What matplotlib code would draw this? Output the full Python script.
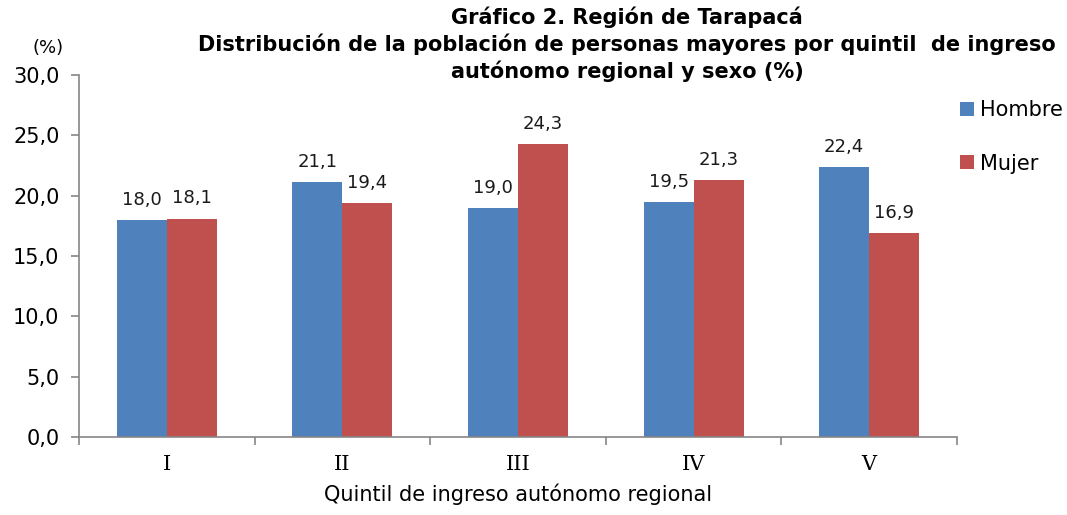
import matplotlib
matplotlib.use('Agg')
import matplotlib.pyplot as plt
import numpy as np

# Datos del grafico
quintiles = ["I", "II", "III", "IV", "V"]
hombre = [18.0, 21.1, 19.0, 19.5, 22.4]
mujer = [18.1, 19.4, 24.3, 21.3, 16.9]
yticks = [0, 5, 10, 15, 20, 25, 30]

plt.rcParams['font.family'] = ['DejaVu Sans']

fig = plt.figure(figsize=(10.67, 5.15), dpi=100)
ax = fig.add_axes([79 / 1067, 1 - 437 / 515, 878 / 1067, 362 / 515])

x = np.arange(len(quintiles))
ancho = 0.285
b1 = ax.bar(x - ancho / 2, hombre, ancho, color="#4F81BD", label="Hombre")
b2 = ax.bar(x + ancho / 2, mujer, ancho, color="#C0504D", label="Mujer")

# Etiquetas de valores
for barras, vals in ((b1, hombre), (b2, mujer)):
    for b, v in zip(barras, vals):
        ax.annotate(f"{v:.1f}".replace(".", ","), (b.get_x() + b.get_width() / 2, v),
                    xytext=(0, 8), textcoords="offset points",
                    ha="center", va="bottom", fontsize=13, color="#1a1a1a")

ax.set_xlim(-0.5, len(quintiles) - 0.5)
ax.set_ylim(0, 30)
ax.set_yticks(yticks)
ax.set_yticklabels([f"{t:.1f}".replace(".", ",") for t in yticks], fontsize=15)
ax.set_xticks(x)
ax.set_xticklabels(quintiles, fontsize=15, family="DejaVu Serif")
ax.set_xticks(np.arange(-0.5, len(quintiles)), minor=True)
ax.tick_params(axis="x", which="major", length=0, pad=13)
ax.tick_params(axis="x", which="minor", length=6, color="#868686", width=1.2)
ax.tick_params(axis="y", length=6, color="#868686", width=1.2, pad=8)

for s in ("top", "right"):
    ax.spines[s].set_visible(False)
for s in ("left", "bottom"):
    ax.spines[s].set_color("#868686")
    ax.spines[s].set_linewidth(1.2)

ax.set_xlabel("Quintil de ingreso autónomo regional", fontsize=15, labelpad=7)

fig.text(48 / 1067, 1 - 48 / 515, "(%)", ha="center", va="center", fontsize=13)

fig.text(627 / 1067, 1 - 17 / 515, "Gráfico 2. Región de Tarapacá",
         ha="center", va="center", fontsize=15, fontweight="bold")
fig.text(627 / 1067, 1 - 44 / 515,
         "Distribución de la población de personas mayores por quintil  de ingreso",
         ha="center", va="center", fontsize=15, fontweight="bold")
fig.text(627 / 1067, 1 - 71 / 515, "autónomo regional y sexo (%)",
         ha="center", va="center", fontsize=15, fontweight="bold")

ax.legend(loc="upper left", bbox_to_anchor=(952 / 1067, 1 - 92 / 515),
          bbox_transform=fig.transFigure, frameon=False, fontsize=15,
          handlelength=0.65, handleheight=0.65, handletextpad=0.3,
          labelspacing=1.6, borderaxespad=0)

fig.savefig("out.png", dpi=100)
